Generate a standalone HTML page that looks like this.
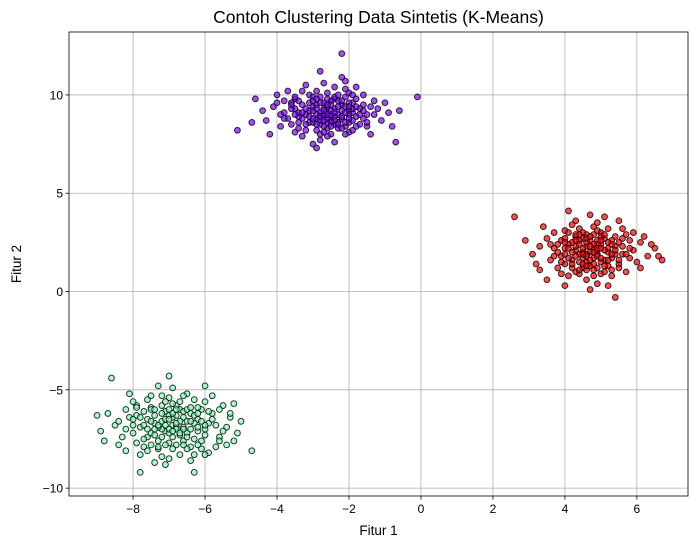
<!DOCTYPE html>
<html><head><meta charset="utf-8"><style>
html,body{margin:0;padding:0;background:#fff;}
svg{display:block;font-family:"Liberation Sans","DejaVu Sans",sans-serif;}
</style></head><body>
<svg id="chart" width="698" height="547" viewBox="0 0 698 547" xmlns="http://www.w3.org/2000/svg">
<rect width="698" height="547" fill="#fff"/>
<g id="grid"></g>
<g id="points"></g>
<rect x="69" y="32" width="619" height="464" fill="none" stroke="#000" stroke-width="0.8"/>
<g id="ticks"></g>
<text x="378.5" y="23" font-size="17.5" text-anchor="middle">Contoh Clustering Data Sintetis (K-Means)</text>
<text x="378.5" y="535" font-size="13.5" text-anchor="middle">Fitur 1</text>
<text x="21" y="264" font-size="13.5" text-anchor="middle" transform="rotate(-90 21 264)">Fitur 2</text>
</svg>
<script>
const xTicks=[-8,-6,-4,-2,0,2,4,6];
const yTicks=[-10,-5,0,5,10];
const purplePts=[[-2.6,9.1],[-3.1,8.6],[-2.2,9.5],[-1.8,8.9],[-3.5,9.3],[-2.9,8.2],[-2.4,9.8],[-2.0,9.2],[-3.3,8.8],[-2.7,9.6],[-1.5,9.0],[-3.8,9.1],[-2.1,8.4],[-2.8,9.9],[-3.0,9.4],[-2.5,8.7],[-1.9,9.6],[-3.6,8.5],[-2.3,9.0],[-2.6,8.3],[-4.1,9.4],[-1.2,9.3],[-2.9,10.2],[-3.4,9.7],[-2.0,8.1],[-2.7,8.9],[-1.7,8.5],[-3.2,9.0],[-2.4,10.4],[-2.8,7.7],[-5.1,8.2],[-0.1,9.9],[-4.6,9.8],[-0.7,7.6],[-3.9,8.4],[-1.4,8.0],[-2.2,10.9],[-3.0,7.5],[-2.6,9.4],[-2.1,9.9],[-3.7,10.2],[-1.6,9.5],[-2.5,8.0],[-3.1,9.2],[-2.9,9.5],[-2.3,8.6],[-1.9,8.2],[-3.4,8.9],[-2.7,8.4],[-2.0,10.1],[-4.3,8.7],[-1.1,8.7],[-3.5,8.1],[-2.4,9.3],[-2.8,9.1],[-1.8,9.8],[-3.2,10.5],[-2.6,7.9],[-2.2,8.8],[-3.0,8.6],[-4.7,8.6],[-0.9,9.1],[-3.8,9.7],[-1.3,9.7],[-2.5,9.7],[-2.9,8.8],[-2.1,9.4],[-3.3,9.5],[-1.6,8.8],[-2.7,10.6],[-2.4,8.5],[-3.6,9.3],[-2.0,8.6],[-2.8,8.5],[-3.1,10.0],[-1.9,9.1],[-2.6,10.1],[-3.9,9.0],[-1.5,8.4],[-2.3,9.7],[-4.0,10.0],[-0.8,8.4],[-2.9,7.3],[-2.2,12.1],[-3.4,8.3],[-1.7,9.3],[-2.6,8.6],[-3.0,9.9],[-2.4,8.9],[-2.1,8.0],[-2.0,9.0],[-3.2,8.5],[-2.7,9.3],[-1.4,9.4],[-3.7,8.8],[-2.5,9.0],[-2.8,11.2],[-4.4,9.2],[-1.0,9.6],[-2.3,8.3],[-3.3,7.9],[-1.8,10.4],[-2.9,9.0],[-2.2,9.2],[-3.5,9.8],[-2.6,8.8],[-1.6,10.0],[-3.0,9.2],[-2.4,7.6],[-4.2,8.0],[-0.6,9.2],[-2.1,10.7],[-3.6,9.6],[-2.7,8.1],[-1.9,8.7],[-3.1,8.9],[-2.5,9.5],[-2.0,9.6],[-2.8,8.7],[-3.4,9.1],
[-2.5,9.2],[-2.8,8.9],[-2.3,9.4],[-2.7,9.0],[-2.4,8.7],[-2.9,9.3],[-2.1,9.1],[-3.0,8.8],[-2.6,9.5],[-2.2,8.9],[-3.2,9.3],[-2.5,8.6],[-1.9,9.3],[-2.8,9.6],[-3.3,9.1],[-2.3,8.5],[-2.0,8.8],[-2.7,8.7],[-3.1,9.6],[-2.4,9.1],[-1.7,9.0],[-3.5,9.0],[-2.6,9.8],[-2.1,8.6],[-2.9,8.5],[-2.2,9.7],[-3.4,8.6],[-1.8,9.4],[-2.5,8.4],[-3.0,9.7],[-2.0,9.4],[-2.7,9.2],[-3.6,9.5],[-1.6,9.2],[-2.4,9.9],[-3.2,8.2],[-2.3,10.0],[-1.5,8.6],[-3.8,8.8],[-2.1,10.3],[-2.6,9.0],[-2.9,9.8],[-1.8,8.4],[-3.3,10.2],[-2.2,8.3],[-4.0,9.6],[-1.3,9.0],[-2.8,8.0],[-3.5,9.9],[-1.9,10.0]];
const redPts=[[4.7,2.0],[4.2,2.5],[5.1,1.6],[4.5,1.2],[5.4,2.3],[3.9,1.8],[4.8,2.9],[5.0,0.9],[4.3,2.1],[5.6,1.9],[4.6,1.5],[3.6,2.4],[4.9,2.6],[5.3,1.1],[4.1,0.8],[4.4,3.2],[5.8,2.6],[4.0,2.2],[5.2,2.0],[4.7,1.3],[3.3,2.3],[6.3,1.8],[4.5,2.7],[5.5,1.4],[4.2,1.6],[4.9,3.5],[3.8,1.2],[5.7,2.9],[4.6,0.6],[5.0,2.4],[2.6,3.8],[6.7,1.6],[4.1,4.1],[5.4,-0.3],[3.5,0.6],[6.1,1.2],[4.8,1.7],[4.3,2.8],[5.1,2.7],[4.4,1.9],[3.7,3.0],[5.9,2.1],[4.6,2.3],[5.3,1.7],[4.0,1.4],[4.9,0.4],[5.6,3.2],[3.9,2.6],[4.7,2.6],[5.2,1.3],[3.1,1.9],[6.5,2.2],[4.4,0.9],[5.0,3.0],[4.2,3.4],[5.5,2.5],[3.6,1.6],[4.8,2.2],[5.3,0.8],[4.5,2.0],[2.9,2.6],[6.2,2.8],[4.0,3.1],[5.7,1.0],[3.4,3.3],[6.0,1.5],[4.9,1.9],[4.3,1.0],[5.1,3.8],[4.6,2.9],[3.8,2.0],[5.8,1.7],[4.1,2.4],[5.4,2.8],[4.7,0.1],[4.0,0.3],[5.2,2.2],[3.5,2.7],[6.4,2.4],[4.5,1.7],[4.8,3.3],[5.0,1.5],[4.3,2.3],[5.6,2.3],[3.9,0.9],[4.6,1.1],[5.5,3.6],[4.2,1.2],[4.9,2.1],[3.2,1.4],[6.6,1.8],[4.4,2.6],[5.3,2.6],[4.1,1.7],[5.9,3.0],[4.7,3.9],[5.2,0.3],[3.7,2.2],[4.8,1.4],[5.0,2.8],[4.5,3.0],[5.7,1.9],[4.0,2.7],[5.4,1.9],[4.6,1.9],[3.3,1.1],[6.1,2.5],[4.3,3.6],[5.1,1.0],[4.9,2.4],
[4.5,2.2],[4.9,1.8],[4.6,2.5],[5.1,2.1],[4.3,1.8],[4.8,2.4],[5.0,1.7],[4.4,2.4],[4.7,1.6],[5.2,2.5],[4.2,2.0],[4.9,2.2],[4.6,1.8],[5.0,2.6],[4.4,1.5],[4.8,2.0],[5.3,1.9],[4.1,2.2],[4.7,2.3],[4.5,1.4],[5.1,2.9],[4.3,2.6],[4.9,1.2],[5.4,2.1],[4.0,1.9],[4.6,2.7],[5.2,1.6],[4.8,1.1],[4.4,2.9],[5.5,1.6],[3.8,2.4],[4.2,1.4],[5.0,2.2],[4.7,2.8],[4.5,1.9],[5.3,2.4],[3.9,1.5],[5.6,2.7],[4.6,1.3],[4.9,3.1],[4.3,2.9],[5.1,1.3],[4.0,2.5],[5.8,2.2],[4.4,1.1],[5.2,3.2],[3.7,1.8],[4.8,0.8],[5.5,1.2],[4.1,3.0]];
const greenPts=[[-6.9,-6.8],[-7.4,-6.3],[-6.5,-7.2],[-7.0,-7.7],[-6.2,-6.5],[-7.8,-6.9],[-6.7,-6.0],[-6.4,-7.9],[-7.2,-6.6],[-6.0,-7.0],[-7.6,-7.4],[-6.8,-5.8],[-7.1,-7.1],[-5.8,-6.2],[-8.1,-6.4],[-6.6,-6.9],[-7.3,-8.0],[-6.1,-7.6],[-7.5,-5.9],[-6.9,-7.4],[-8.5,-6.8],[-5.4,-6.9],[-7.0,-5.4],[-6.3,-8.3],[-7.7,-7.9],[-6.0,-5.6],[-7.2,-7.0],[-6.6,-6.4],[-8.0,-7.2],[-5.6,-7.4],[-9.0,-6.3],[-4.7,-8.1],[-8.6,-4.4],[-6.3,-9.2],[-7.8,-9.2],[-5.2,-7.6],[-7.0,-4.3],[-6.8,-7.8],[-7.4,-6.7],[-6.4,-6.2],[-7.9,-5.8],[-5.9,-6.7],[-7.1,-6.1],[-6.7,-7.3],[-8.3,-7.4],[-5.5,-5.8],[-6.9,-6.4],[-7.3,-7.6],[-6.2,-7.1],[-7.6,-6.5],[-8.8,-7.6],[-5.3,-6.4],[-6.5,-5.2],[-7.2,-8.4],[-6.1,-6.0],[-7.5,-7.2],[-6.8,-6.9],[-8.2,-6.0],[-5.7,-7.9],[-7.0,-6.3],[-8.9,-7.1],[-5.0,-6.6],[-7.3,-4.8],[-6.4,-8.6],[-7.7,-6.1],[-6.0,-4.8],[-7.4,-8.7],[-6.6,-7.6],[-8.4,-6.6],[-5.6,-6.0],[-7.1,-6.8],[-6.3,-6.7],[-7.9,-7.7],[-6.7,-5.6],[-5.9,-8.2],[-7.5,-6.0],[-6.9,-8.0],[-8.0,-5.6],[-6.2,-5.9],[-7.2,-7.4],[-6.5,-6.6],[-7.8,-8.3],[-5.5,-7.1],[-7.0,-6.0],[-6.8,-7.0],[-8.7,-6.2],[-5.2,-5.7],[-7.3,-6.9],[-6.4,-7.0],[-7.6,-5.5],[-6.1,-8.0],[-7.1,-7.8],[-6.6,-6.1],[-8.2,-8.1],[-5.8,-6.5],[-7.4,-7.0],[-6.9,-5.7],[-7.7,-6.8],[-6.3,-7.5],[-7.0,-7.2],[-6.7,-6.6],[-8.0,-6.5],[-5.4,-7.8],[-7.2,-5.3],[-6.5,-8.0],[-7.5,-7.8],[-6.0,-6.8],[-6.8,-6.3],[-7.9,-6.3],[-6.2,-7.8],
[-6.8,-6.7],[-7.1,-6.5],[-6.6,-7.0],[-7.0,-7.0],[-6.4,-6.6],[-7.3,-6.8],[-6.9,-6.2],[-6.5,-7.4],[-7.2,-6.2],[-6.2,-6.9],[-7.5,-6.6],[-6.7,-7.2],[-7.0,-6.5],[-6.3,-6.3],[-7.6,-7.0],[-6.9,-7.1],[-7.4,-7.3],[-6.1,-6.6],[-7.2,-5.8],[-6.6,-7.8],[-7.8,-6.4],[-6.0,-7.3],[-7.1,-5.6],[-6.5,-6.0],[-7.7,-7.5],[-5.9,-6.1],[-7.3,-7.9],[-6.8,-6.0],[-8.0,-6.8],[-5.7,-6.8],[-6.7,-8.3],[-7.5,-5.3],[-6.3,-5.5],[-8.2,-7.0],[-5.6,-7.6],[-7.0,-8.5],[-6.4,-5.9],[-7.9,-5.9],[-6.0,-8.3],[-7.4,-6.0],[-6.6,-5.3],[-8.4,-7.8],[-5.3,-6.2],[-7.1,-8.8],[-6.2,-6.2],[-7.6,-8.1],[-5.8,-5.3],[-8.1,-5.2],[-6.9,-4.9],[-5.1,-7.2]];
const NS='http://www.w3.org/2000/svg';
const X0=69,X1=688,Y0=32,Y1=496;
const xMin=-9.78,xMax=7.42,yMin=-10.4,yMax=13.2;
function sx(v){return X0+(v-xMin)/(xMax-xMin)*(X1-X0);}
function sy(v){return Y1-(v-yMin)/(yMax-yMin)*(Y1-Y0);}
function mk(tag,attrs,parent){const e=document.createElementNS(NS,tag);for(const k in attrs)e.setAttribute(k,attrs[k]);parent.appendChild(e);return e;}
const grid=document.getElementById('grid'),ticks=document.getElementById('ticks'),pts=document.getElementById('points');
xTicks.forEach(t=>{
  const x=sx(t);
  const g=mk('line',{x1:x,x2:x,y1:Y0,y2:Y1,stroke:'#b0b0b0','stroke-width':0.8},grid);
  
  
  const tk=mk('line',{x1:x,x2:x,y1:Y1,y2:Y1+3.5,stroke:'#000','stroke-width':0.8},ticks);
  
  
  const lb=mk('text',{x:x,y:Y1+17,'font-size':12,'text-anchor':'middle'},ticks);
  lb.textContent=(t<0?'\u2212'+(-t):String(t));
  
  
});
yTicks.forEach(t=>{
  const y=sy(t);
  const g=mk('line',{x1:X0,x2:X1,y1:y,y2:y,stroke:'#b0b0b0','stroke-width':0.8},grid);
  
  
  const tk=mk('line',{x1:X0-3.5,x2:X0,y1:y,y2:y,stroke:'#000','stroke-width':0.8},ticks);
  
  
  const lb=mk('text',{x:X0-6,y:y+4.5,'font-size':12,'text-anchor':'end'},ticks);
  lb.textContent=(t<0?'\u2212'+(-t):String(t));
  
  
});
function drawCluster(arr,color,name){
  arr.forEach(p=>{
    const c=mk('circle',{cx:sx(p[0]),cy:sy(p[1]),r:2.9,fill:color,'fill-opacity':0.7,stroke:'#000','stroke-opacity':0.8,'stroke-width':1},pts);
    
    
  });
}
drawCluster(greenPts,'#80feb3','point-cluster-green');
drawCluster(purplePts,'#7f00ff','point-cluster-purple');
drawCluster(redPts,'#ff0000','point-cluster-red');
</script>
</body></html>
